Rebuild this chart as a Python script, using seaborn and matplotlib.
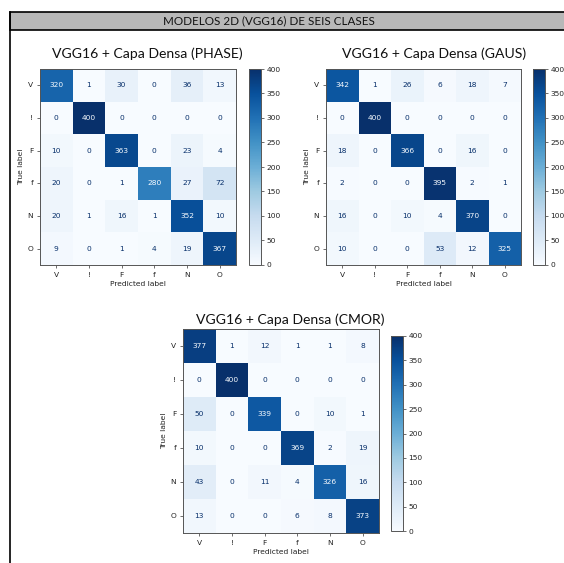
import numpy as np
import pandas as pd
import matplotlib
matplotlib.use("Agg")
import matplotlib.pyplot as plt
from matplotlib.patches import Rectangle
from matplotlib.lines import Line2D
import seaborn as sns

classes = ["V", "!", "F", "f", "N", "O"]

cm_phase = [
    [320, 1, 30, 0, 36, 13],
    [0, 400, 0, 0, 0, 0],
    [10, 0, 363, 0, 23, 4],
    [20, 0, 1, 280, 27, 72],
    [20, 1, 16, 1, 352, 10],
    [9, 0, 1, 4, 19, 367],
]
cm_gaus = [
    [342, 1, 26, 6, 18, 7],
    [0, 400, 0, 0, 0, 0],
    [18, 0, 366, 0, 16, 0],
    [2, 0, 0, 395, 2, 1],
    [16, 0, 10, 4, 370, 0],
    [10, 0, 0, 53, 12, 325],
]
cm_cmor = [
    [377, 1, 12, 1, 1, 8],
    [0, 400, 0, 0, 0, 0],
    [50, 0, 339, 0, 10, 1],
    [10, 0, 0, 369, 2, 19],
    [43, 0, 11, 4, 326, 16],
    [13, 0, 0, 6, 8, 373],
]
titles = ["VGG16 + Capa Densa (PHASE)", "VGG16 + Capa Densa (GAUS)", "VGG16 + Capa Densa (CMOR)"]
header = "MODELOS 2D (VGG16) DE SEIS CLASES"

W, H = 564, 563
fig = plt.figure(figsize=(W / 100, H / 100), dpi=100)
fig.patch.set_facecolor("white")


def px(x0, y0, x1, y1):
    """Pixel box (top-left origin) -> figure fraction rect."""
    return [x0 / W, 1 - y1 / H, (x1 - x0) / W, (y1 - y0) / H]


title_font = ["Lato", "DejaVu Sans"]
small = 5.4
cmap = plt.get_cmap("Blues")

# (matrix, title, heatmap box, colorbar box, title centre x, title baseline y)
panels = [
    (cm_phase, titles[0], px(40, 69, 236, 265), px(249, 69, 261, 265), 147, 58),
    (cm_gaus, titles[1], px(326, 69, 521, 265), px(533, 69, 545, 265), 434, 58),
    (cm_cmor, titles[2], px(183, 329, 379, 533), px(391, 336, 403, 531), 290, 324),
]

for data, title, rect, crect, tx, ty in panels:
    ax = fig.add_axes(rect)
    cax = fig.add_axes(crect)
    df = pd.DataFrame(data, index=classes, columns=classes)
    sns.heatmap(df, ax=ax, cbar_ax=cax, cmap="Blues", vmin=0, vmax=400,
                annot=True, fmt="d", annot_kws={"fontsize": small},
                square=False)
    # text colours: light on dark cells, navy on light cells
    vals = np.array(data).ravel()
    thresh = (vals.max() + vals.min()) / 2
    for t, v in zip(ax.texts, vals):
        t.set_color(cmap(0.0) if v >= thresh else cmap(1.0))
    for sp in ax.spines.values():
        sp.set_visible(True)
        sp.set_linewidth(0.7)
        sp.set_color("#555555")
    ax.tick_params(axis="both", labelsize=small, length=2.5, width=0.5,
                   pad=2.5, color="#333333", labelcolor="#222222")
    ax.set_yticklabels(classes, rotation=0)
    ax.set_xticklabels(classes, rotation=0)
    ax.set_xlabel("Predicted label", fontsize=small, labelpad=2.5, color="#222222")
    ax.set_ylabel("True label", fontsize=small, labelpad=2.5, color="#222222")
    fig.text(tx / W, 1 - ty / H, title, ha="center", va="baseline",
             fontsize=10.1, family=title_font, color="#111111")
    cbar = ax.collections[0].colorbar
    cbar.set_ticks(np.arange(0, 401, 50))
    cax.tick_params(labelsize=small, length=2.5, width=0.5, pad=1.5,
                    color="#333333", labelcolor="#222222")
    cbar.outline.set_linewidth(0.7)
    cbar.outline.set_edgecolor("#555555")

# header band with frame line
fig.patches.append(Rectangle((10 / W, 1 - 29.5 / H), (W - 10) / W + 0.01, 17.5 / H,
                             transform=fig.transFigure, facecolor="#b8b8b8",
                             edgecolor="black", linewidth=1.2, zorder=0))
fig.lines.append(Line2D([10 / W, 10 / W], [0, 1 - 12 / H], transform=fig.transFigure,
                        color="black", linewidth=1.2))
fig.text(269 / W, 1 - 21 / H, header, ha="center", va="center", fontsize=8.4,
         family=title_font, color="#111111")

fig.savefig("out.png", dpi=100, facecolor="white")
